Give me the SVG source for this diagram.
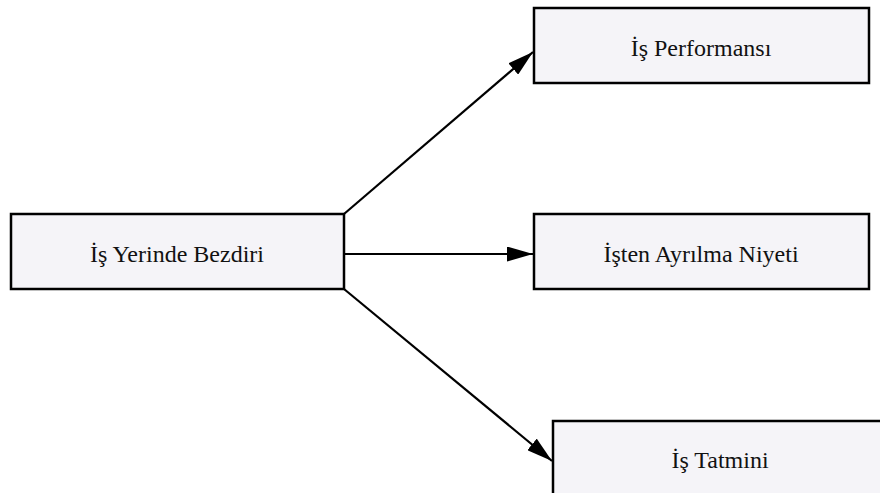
<svg xmlns="http://www.w3.org/2000/svg" width="880" height="493" viewBox="0 0 880 493">
<style>
.box{fill:#f5f4f8;stroke:#000;stroke-width:2.5}
.lbl{font-family:"Liberation Serif","Times New Roman",serif;font-size:24px;fill:#111;text-anchor:middle}
.edge{stroke:#000;stroke-width:2.2;fill:none}
</style>
<defs>
<marker id="ah" viewBox="0 0 26 15" refX="26" refY="7.5" markerWidth="26" markerHeight="15" markerUnits="userSpaceOnUse" orient="auto">
<path d="M0,0 L26,7.5 L0,15 z" fill="#000"/>
</marker>
</defs>
<rect width="880" height="493" fill="#fff"/>
<g id="connectors">
<line class="edge" x1="344" y1="214" x2="533" y2="52" marker-end="url(#ah)"/>
<line class="edge" x1="344" y1="254" x2="533" y2="254" marker-end="url(#ah)"/>
<line class="edge" x1="344" y1="289" x2="552" y2="461" marker-end="url(#ah)"/>
</g>
<g id="bezdiri">
<rect class="box" x="11" y="214" width="333" height="75"/>
<text class="lbl" x="177" y="262">İş Yerinde Bezdiri</text>
</g>
<g id="performans">
<rect class="box" x="534" y="8" width="335" height="75"/>
<text class="lbl" x="701" y="56">İş Performansı</text>
</g>
<g id="ayrilma">
<rect class="box" x="534" y="214" width="335" height="75"/>
<text class="lbl" x="701" y="262">İşten Ayrılma Niyeti</text>
</g>
<g id="tatmin">
<rect class="box" x="553" y="421" width="340" height="80"/>
<text class="lbl" x="720" y="468">İş Tatmini</text>
</g>
</svg>
